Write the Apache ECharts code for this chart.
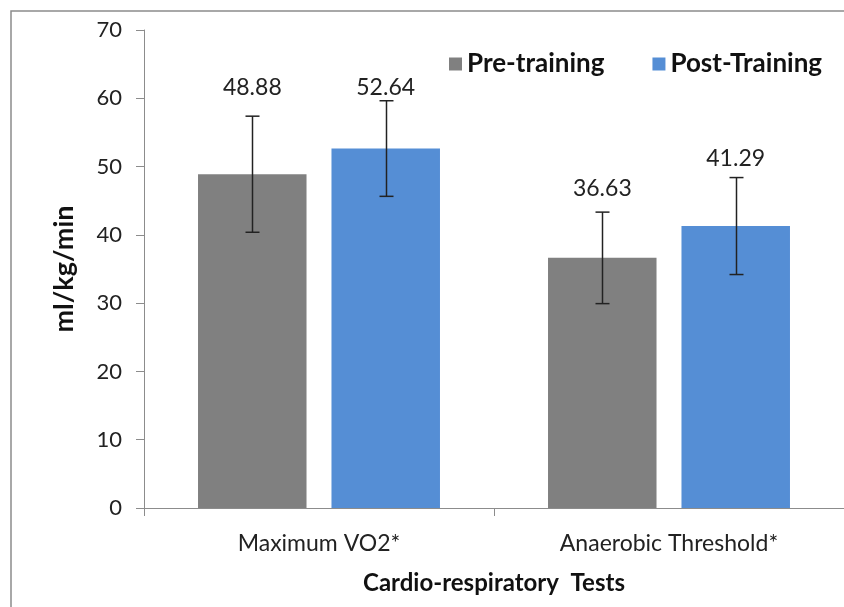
<!DOCTYPE html>
<html><head><meta charset="utf-8">
<script src="https://cdn.jsdelivr.net/npm/echarts@6/dist/echarts.min.js"></script>
<style>html,body{margin:0;padding:0;background:#fff}#c{width:844px;height:607px}</style>
</head><body><div id="c"></div>
<script>
var categories = ['Maximum VO2*', 'Anaerobic Threshold*'];
var preValues = [48.88, 36.63];
var postValues = [52.64, 41.29];
var preErr = [8.5, 6.7];
var postErr = [7.0, 7.1];
var preLabelY = [61.5, 46.8];
var postLabelY = [61.5, 51.2];
var yTicks = [0, 10, 20, 30, 40, 50, 60, 70];

var FONT = 'Lato, "Open Sans", sans-serif';
var chart = echarts.init(document.getElementById('c'));

function errSeries(name, vals, errs, idx) {
  return {
    type: 'custom', name: name + ' err', z: 10, silent: true,
    data: vals.map(function (v, i) { return [i, v - errs[i], v + errs[i]]; }),
    renderItem: function (params, api) {
      var lo = api.coord([api.value(0), api.value(1)]);
      var hi = api.coord([api.value(0), api.value(2)]);
      var size = api.size([1, 0]);
      var bw = size[0] * 0.31, gap = size[0] * 0.071;
      var off = (idx === 0 ? -1 : 1) * (bw / 2 + gap / 2);
      var x = Math.round(lo[0] + off) + 0.5;
      var c = 7;
      var st = { stroke: '#222', lineWidth: 1.5 };
      return { type: 'group', children: [
        { type: 'line', shape: { x1: x, y1: lo[1], x2: x, y2: hi[1] }, style: st },
        { type: 'line', shape: { x1: x - c, y1: hi[1], x2: x + c, y2: hi[1] }, style: st },
        { type: 'line', shape: { x1: x - c, y1: lo[1], x2: x + c, y2: lo[1] }, style: st }
      ]};
    }
  };
}
function labelSeries(vals, ys, idx) {
  return {
    type: 'custom', z: 11, silent: true,
    data: vals.map(function (v, i) { return [i, ys[i], v]; }),
    renderItem: function (params, api) {
      var p = api.coord([api.value(0), api.value(1)]);
      var size = api.size([1, 0]);
      var bw = size[0] * 0.31, gap = size[0] * 0.071;
      var off = (idx === 0 ? -1 : 1) * (bw / 2 + gap / 2);
      return { type: 'text', x: p[0] + off, y: p[1], style: {
        text: api.value(2).toFixed(2), fill: '#222', font: '23px ' + FONT,
        textAlign: 'center', textVerticalAlign: 'middle' } };
    }
  };
}

chart.setOption({
  animation: false,
  textStyle: { fontFamily: FONT },
  graphic: [{ type: 'rect', shape: { x: 11, y: 11, width: 900, height: 700 },
    style: { fill: 'none', stroke: '#8c8c8c', lineWidth: 1.5 }, silent: true }],
  legend: {
    top: 46, left: 444, itemGap: 48, itemWidth: 13, itemHeight: 13, icon: 'rect',
    textStyle: { fontSize: 26, fontWeight: 'bold', color: '#111', fontFamily: FONT },
    data: ['Pre-training', 'Post-Training']
  },
  grid: { left: 144, right: 0, top: 30, bottom: 99 },
  xAxis: {
    type: 'category', data: categories,
    name: 'Cardio-respiratory  Tests', nameLocation: 'middle', nameGap: 63,
    nameTextStyle: { fontSize: 24, fontWeight: 'bold', color: '#111', fontFamily: FONT },
    axisLine: { lineStyle: { color: '#8c8c8c', width: 1 } },
    axisTick: { show: true, length: 8, lineStyle: { color: '#8c8c8c' } },
    axisLabel: { fontSize: 23, color: '#222', margin: 24, fontFamily: FONT }
  },
  yAxis: {
    type: 'value', min: 0, max: 70, interval: 10,
    name: 'ml/kg/min', nameLocation: 'middle', nameGap: 66, nameRotate: 90,
    nameTextStyle: { fontSize: 27, fontWeight: 'bold', color: '#111', fontFamily: FONT },
    axisLine: { show: true, lineStyle: { color: '#8c8c8c', width: 1 } },
    axisTick: { show: true, length: 8, lineStyle: { color: '#8c8c8c' } },
    splitLine: { show: false },
    axisLabel: { fontSize: 22, color: '#222', margin: 22, fontFamily: FONT,
      formatter: function (v) { return yTicks.indexOf(v) >= 0 ? String(v) : ''; } }
  },
  series: [
    { name: 'Pre-training', type: 'bar', data: preValues, barWidth: '31%', barGap: '23%',
      itemStyle: { color: '#808080' } },
    { name: 'Post-Training', type: 'bar', data: postValues, barWidth: '31%', barGap: '23%',
      itemStyle: { color: '#558ed5' } },
    errSeries('Pre-training', preValues, preErr, 0),
    errSeries('Post-Training', postValues, postErr, 1),
    labelSeries(preValues, preLabelY, 0),
    labelSeries(postValues, postLabelY, 1)
  ]
});
</script></body></html>
